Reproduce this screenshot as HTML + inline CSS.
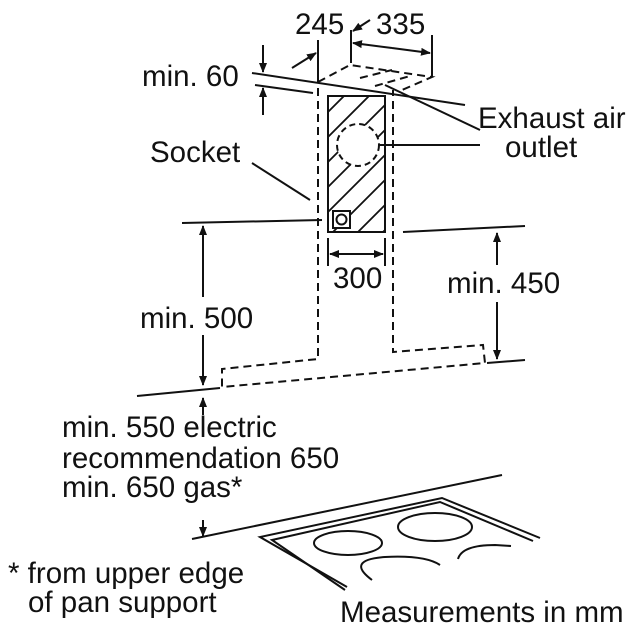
<!DOCTYPE html>
<html><head><meta charset="utf-8"><style>
html,body{margin:0;padding:0;background:#fff;}
svg{display:block;}
text{font-family:"Liberation Sans",sans-serif;font-size:29.5px;fill:#111;}
</style></head><body>
<svg width="631" height="629" viewBox="0 0 631 629" xmlns="http://www.w3.org/2000/svg">
<defs>
<marker id="a" markerWidth="10" markerHeight="8" refX="9" refY="4" orient="auto" markerUnits="userSpaceOnUse">
<path d="M0,0 L10,4 L0,8 z" fill="#111"/></marker>
<clipPath id="hc"><rect x="328" y="96" width="57" height="136"/></clipPath>
</defs>
<g stroke="#111" stroke-width="2" fill="none">
<line x1="318" y1="40" x2="318" y2="83"/>
<line x1="292" y1="68" x2="316" y2="53" marker-end="url(#a)"/>
<line x1="351" y1="30" x2="351" y2="63"/>
<line x1="370" y1="20" x2="353" y2="31" marker-end="url(#a)"/>
<line x1="432" y1="35" x2="432" y2="77"/>
<line x1="392" y1="48" x2="353" y2="43" marker-end="url(#a)"/>
<line x1="392" y1="48" x2="430" y2="53" marker-end="url(#a)"/>
<line x1="252" y1="73" x2="465" y2="105"/>
<line x1="255" y1="85" x2="313" y2="93"/>
<line x1="263" y1="45" x2="263" y2="72" marker-end="url(#a)"/>
<line x1="263" y1="115" x2="263" y2="88" marker-end="url(#a)"/>
<g stroke-dasharray="8,5">
<path d="M318,82 L350,65 L432,77 L402,90"/>
<path d="M360,78 L392,70 M375,86 L410,76"/>
<path d="M318,88 L318,359 L222,369 L222,387 L485,363 L483,345 L393,352 L393,90"/>
</g>
<line x1="385" y1="85" x2="480" y2="130"/>
<line x1="358" y1="145" x2="480" y2="145"/>
<line x1="252" y1="163" x2="310" y2="200"/>
<rect x="328" y="96" width="57" height="136"/>
<g clip-path="url(#hc)" stroke-width="1.8">
<path d="M300,140 L400,40 M300,165 L400,65 M300,190 L400,90 M300,215 L400,115 M300,240 L400,140 M300,265 L400,165 M300,290 L400,190 M300,315 L400,215 M300,340 L400,240 M300,365 L400,265"/>
</g>
<circle cx="358" cy="145" r="21" fill="#fff" stroke="none"/>
<circle cx="358" cy="145" r="21" stroke-dasharray="6,4"/>
<rect x="333" y="211" width="17" height="17" fill="#fff"/>
<circle cx="341.5" cy="219.5" r="5"/>
<line x1="328" y1="238" x2="328" y2="266"/>
<line x1="385" y1="238" x2="385" y2="266"/>
<line x1="356" y1="254" x2="330" y2="254" marker-end="url(#a)"/>
<line x1="356" y1="254" x2="383" y2="254" marker-end="url(#a)"/>
<line x1="182" y1="223" x2="322" y2="220"/>
<line x1="203" y1="297" x2="203" y2="226" marker-end="url(#a)"/>
<line x1="203" y1="335" x2="203" y2="385" marker-end="url(#a)"/>
<line x1="137" y1="396" x2="220" y2="388"/>
<line x1="203" y1="415" x2="203" y2="398" marker-end="url(#a)"/>
<line x1="403" y1="232" x2="525" y2="226"/>
<line x1="497" y1="265" x2="497" y2="233" marker-end="url(#a)"/>
<line x1="497" y1="302" x2="497" y2="359" marker-end="url(#a)"/>
<line x1="487" y1="363" x2="525" y2="360"/>
<line x1="203" y1="520" x2="203" y2="536" marker-end="url(#a)"/>
<line x1="192" y1="539" x2="502" y2="475"/>
<path d="M347,587 L260,537 L442,498 L540,538"/>
<path d="M345,590 L272,540 L440,502 L533,541"/>
<ellipse cx="348" cy="543" rx="34" ry="12"/>
<ellipse cx="435" cy="527" rx="37" ry="14"/>
<path d="M372,580 Q345,560 385,557 Q425,555 440,565"/>
<path d="M458,559 Q462,545 495,545 L511,546"/>
</g>
<text x="295" y="34">245</text>
<text x="376" y="34">335</text>
<text x="142" y="86">min. 60</text>
<text x="478" y="128">Exhaust air</text>
<text x="505" y="157">outlet</text>
<text x="150" y="162">Socket</text>
<text x="333" y="288">300</text>
<text x="447" y="293">min. 450</text>
<text x="140" y="328">min. 500</text>
<text x="62" y="437">min. 550 electric</text>
<text x="62" y="468">recommendation 650</text>
<text x="62" y="497">min. 650 gas*</text>
<text x="8" y="583">* from upper edge</text>
<text x="28" y="612">of pan support</text>
<text x="340" y="622">Measurements in mm</text>
</svg>
</body></html>
